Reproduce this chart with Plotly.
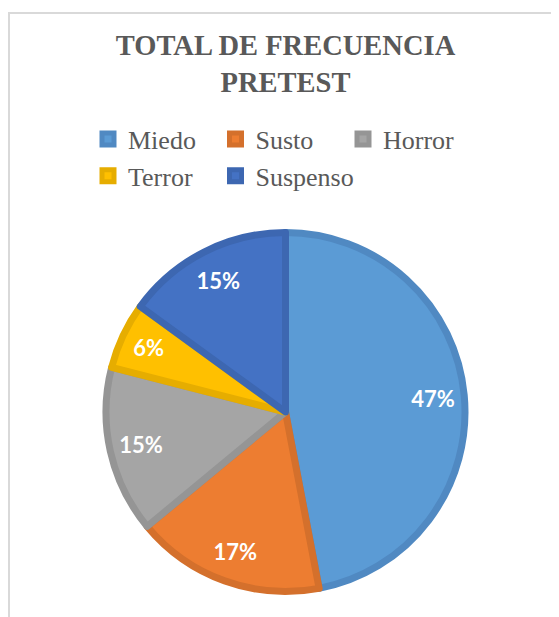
import plotly.graph_objects as go

categories = ["Miedo", "Susto", "Horror", "Terror", "Suspenso"]
values = [47, 17, 15, 6, 15]
fill_colors = ["#5B9BD5", "#ED7D31", "#A5A5A5", "#FFC000", "#4472C4"]
edge_colors = ["#5089C2", "#D4702C", "#959595", "#E6AD00", "#3D67B1"]

# page body adds an 8px margin, so the figure is 8px smaller than the window
W, H = 551, 609
MR = 60                      # right margin narrows the plot area so the legend wraps after 3 items
PW = W - MR                  # plot-area width in px
cx, cy, r = 277.5, 404, 179.5
dom = dict(x=[(cx - r) / PW, (cx + r) / PW], y=[1 - (cy + r) / H, 1 - (cy - r) / H])

fig = go.Figure()
# slices with darker edges
fig.add_trace(go.Pie(
    labels=categories,
    values=values,
    sort=False,
    direction="clockwise",
    rotation=0,
    marker=dict(colors=fill_colors, line=dict(color=edge_colors, width=7)),
    textinfo="none",
    domain=dom,
    hoverinfo="label+percent",
))
# same data as a transparent ring: carries the percentage labels toward the rim
fig.add_trace(go.Pie(
    labels=categories,
    values=values,
    sort=False,
    direction="clockwise",
    rotation=0,
    hole=0.65,
    marker=dict(colors=["rgba(0,0,0,0)"] * len(values), line=dict(width=0)),
    texttemplate="%{percent:.0%}",
    textposition="inside",
    insidetextorientation="horizontal",
    textfont=dict(family="Lato", size=22, color="white", weight="bold"),
    domain=dom,
    showlegend=False,
    hoverinfo="skip",
))

fig.update_layout(
    width=W, height=H,
    margin=dict(l=0, r=MR, t=0, b=0),
    paper_bgcolor="white",
    plot_bgcolor="white",
    uniformtext=dict(minsize=22, mode="show"),
    title=dict(
        text="<b>TOTAL DE FRECUENCIA<br>PRETEST</b>",
        font=dict(family="Liberation Serif", size=28.5, color="#595959"),
        x=cx / W, xanchor="center",
        y=1 - 47 / H, yanchor="middle", yref="container",
    ),
    legend=dict(
        orientation="h",
        x=80 / PW, xanchor="left",
        y=1 - 107.5 / H, yanchor="top",
        font=dict(family="Liberation Serif", size=26, color="#595959"),
        entrywidth=82.5, entrywidthmode="pixels",
        bgcolor="rgba(0,0,0,0)",
    ),
    shapes=[dict(
        type="rect", xref="paper", yref="paper",
        x0=1 / PW, x1=1.25, y0=-0.05, y1=1 - 5 / H,
        line=dict(color="#D9D9D9", width=2), fillcolor="rgba(0,0,0,0)",
        layer="below",
    )],
)

fig.write_html("out.html")
